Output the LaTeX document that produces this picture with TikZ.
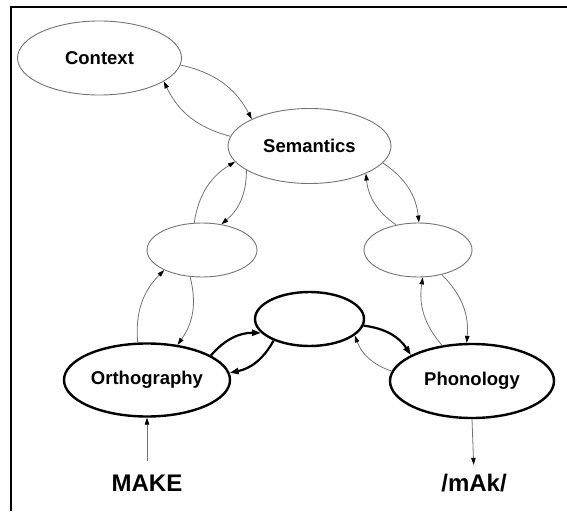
\documentclass[tikz,border=0pt]{standalone}
\usepackage{fontspec}
\setmainfont{Liberation Sans}
\usepackage{tikz}
\usetikzlibrary{positioning}
\usetikzlibrary{calc}
\usetikzlibrary{shapes.geometric}
\usetikzlibrary{arrows.meta}
\definecolor{edgegray}{gray}{0.45}
\tikzset{%
  thinarrow/.style = {-{Triangle[length=7pt,width=4.5pt,color=black]},
        draw=edgegray,line width=0.8pt,bend left=25},
  thickarrow/.style = {-{Triangle[length=9pt,width=6pt]},
        draw=black,line width=2.2pt,bend left=25},
  feed/.style = {-{Triangle[length=7pt,width=4.5pt,color=black]},
        draw=edgegray,line width=0.8pt},
  ell/.style = {ellipse,draw=edgegray,line width=0.9pt,inner sep=0pt,
        font=\fontsize{18.5}{22}\selectfont\bfseries},
  tell/.style = {ellipse,draw=black,line width=2.4pt,inner sep=0pt,
        font=\fontsize{18.5}{22}\selectfont\bfseries},
  word/.style = {inner sep=0pt,font=\fontsize{24}{28}\selectfont\bfseries}
}

\begin{document}
\begin{tikzpicture}[x=1pt,y=-1pt]
    \useasboundingbox (0,0) rectangle (567,511);
    \draw[line width=2pt] (567,7) -- (11,7) -- (11,511);
    % upper layer
    \node[ell,minimum width=164pt,minimum height=74pt] (ctx) at (99.5,58) {Context};
    \node[ell,minimum width=163pt,minimum height=75pt] (sem) at (309.5,146) {Semantics};
    \node[ell,minimum width=110pt,minimum height=54pt] (lmid) at (202,250) {};
    \node[ell,minimum width=108pt,minimum height=54pt] (rmid) at (418,250) {};
    % lower layer
    \node[tell,minimum width=109pt,minimum height=54pt] (hid) at (309.5,319) {};
    \node[tell,minimum width=166pt,minimum height=73pt] (orth) at (147,380) {Orthography};
    \node[tell,minimum width=164pt,minimum height=74pt] (phon) at (472,381) {Phonology};
    \node[word] (make) at (147,483) {MAKE};
    \node[word] (mak) at (474,483) {/mAk/};

    \draw[thinarrow] (ctx.-5) to (sem.155);
    \draw[thinarrow] (sem.173) to (ctx.-20);
    \draw[thinarrow] (lmid.106) to (sem.192);
    \draw[thinarrow] (sem.201) to (lmid.53);
    \draw[thinarrow] (sem.-13) to (rmid.88);
    \draw[thinarrow] (rmid.131) to (sem.-26);
    \draw[thinarrow] (orth.104) to (lmid.208);
    \draw[thinarrow] (lmid.246) to (orth.49);
    \draw[thinarrow] (phon.130) to (rmid.-80);
    \draw[thinarrow] (rmid.-46) to (phon.98);
    \draw[thickarrow] (orth.21) to (hid.196);
    \draw[thickarrow] (hid.211) to (orth.5);
    \draw[thickarrow] (hid.-7) to (phon.157);
    \draw[thinarrow] (phon.173) to (hid.-20);
    \draw[feed,shorten <=14pt] (make.north) -- (orth.south);
    \draw[feed,shorten >=9pt] (phon.south) -- (mak.north);
\end{tikzpicture}
\end{document}
